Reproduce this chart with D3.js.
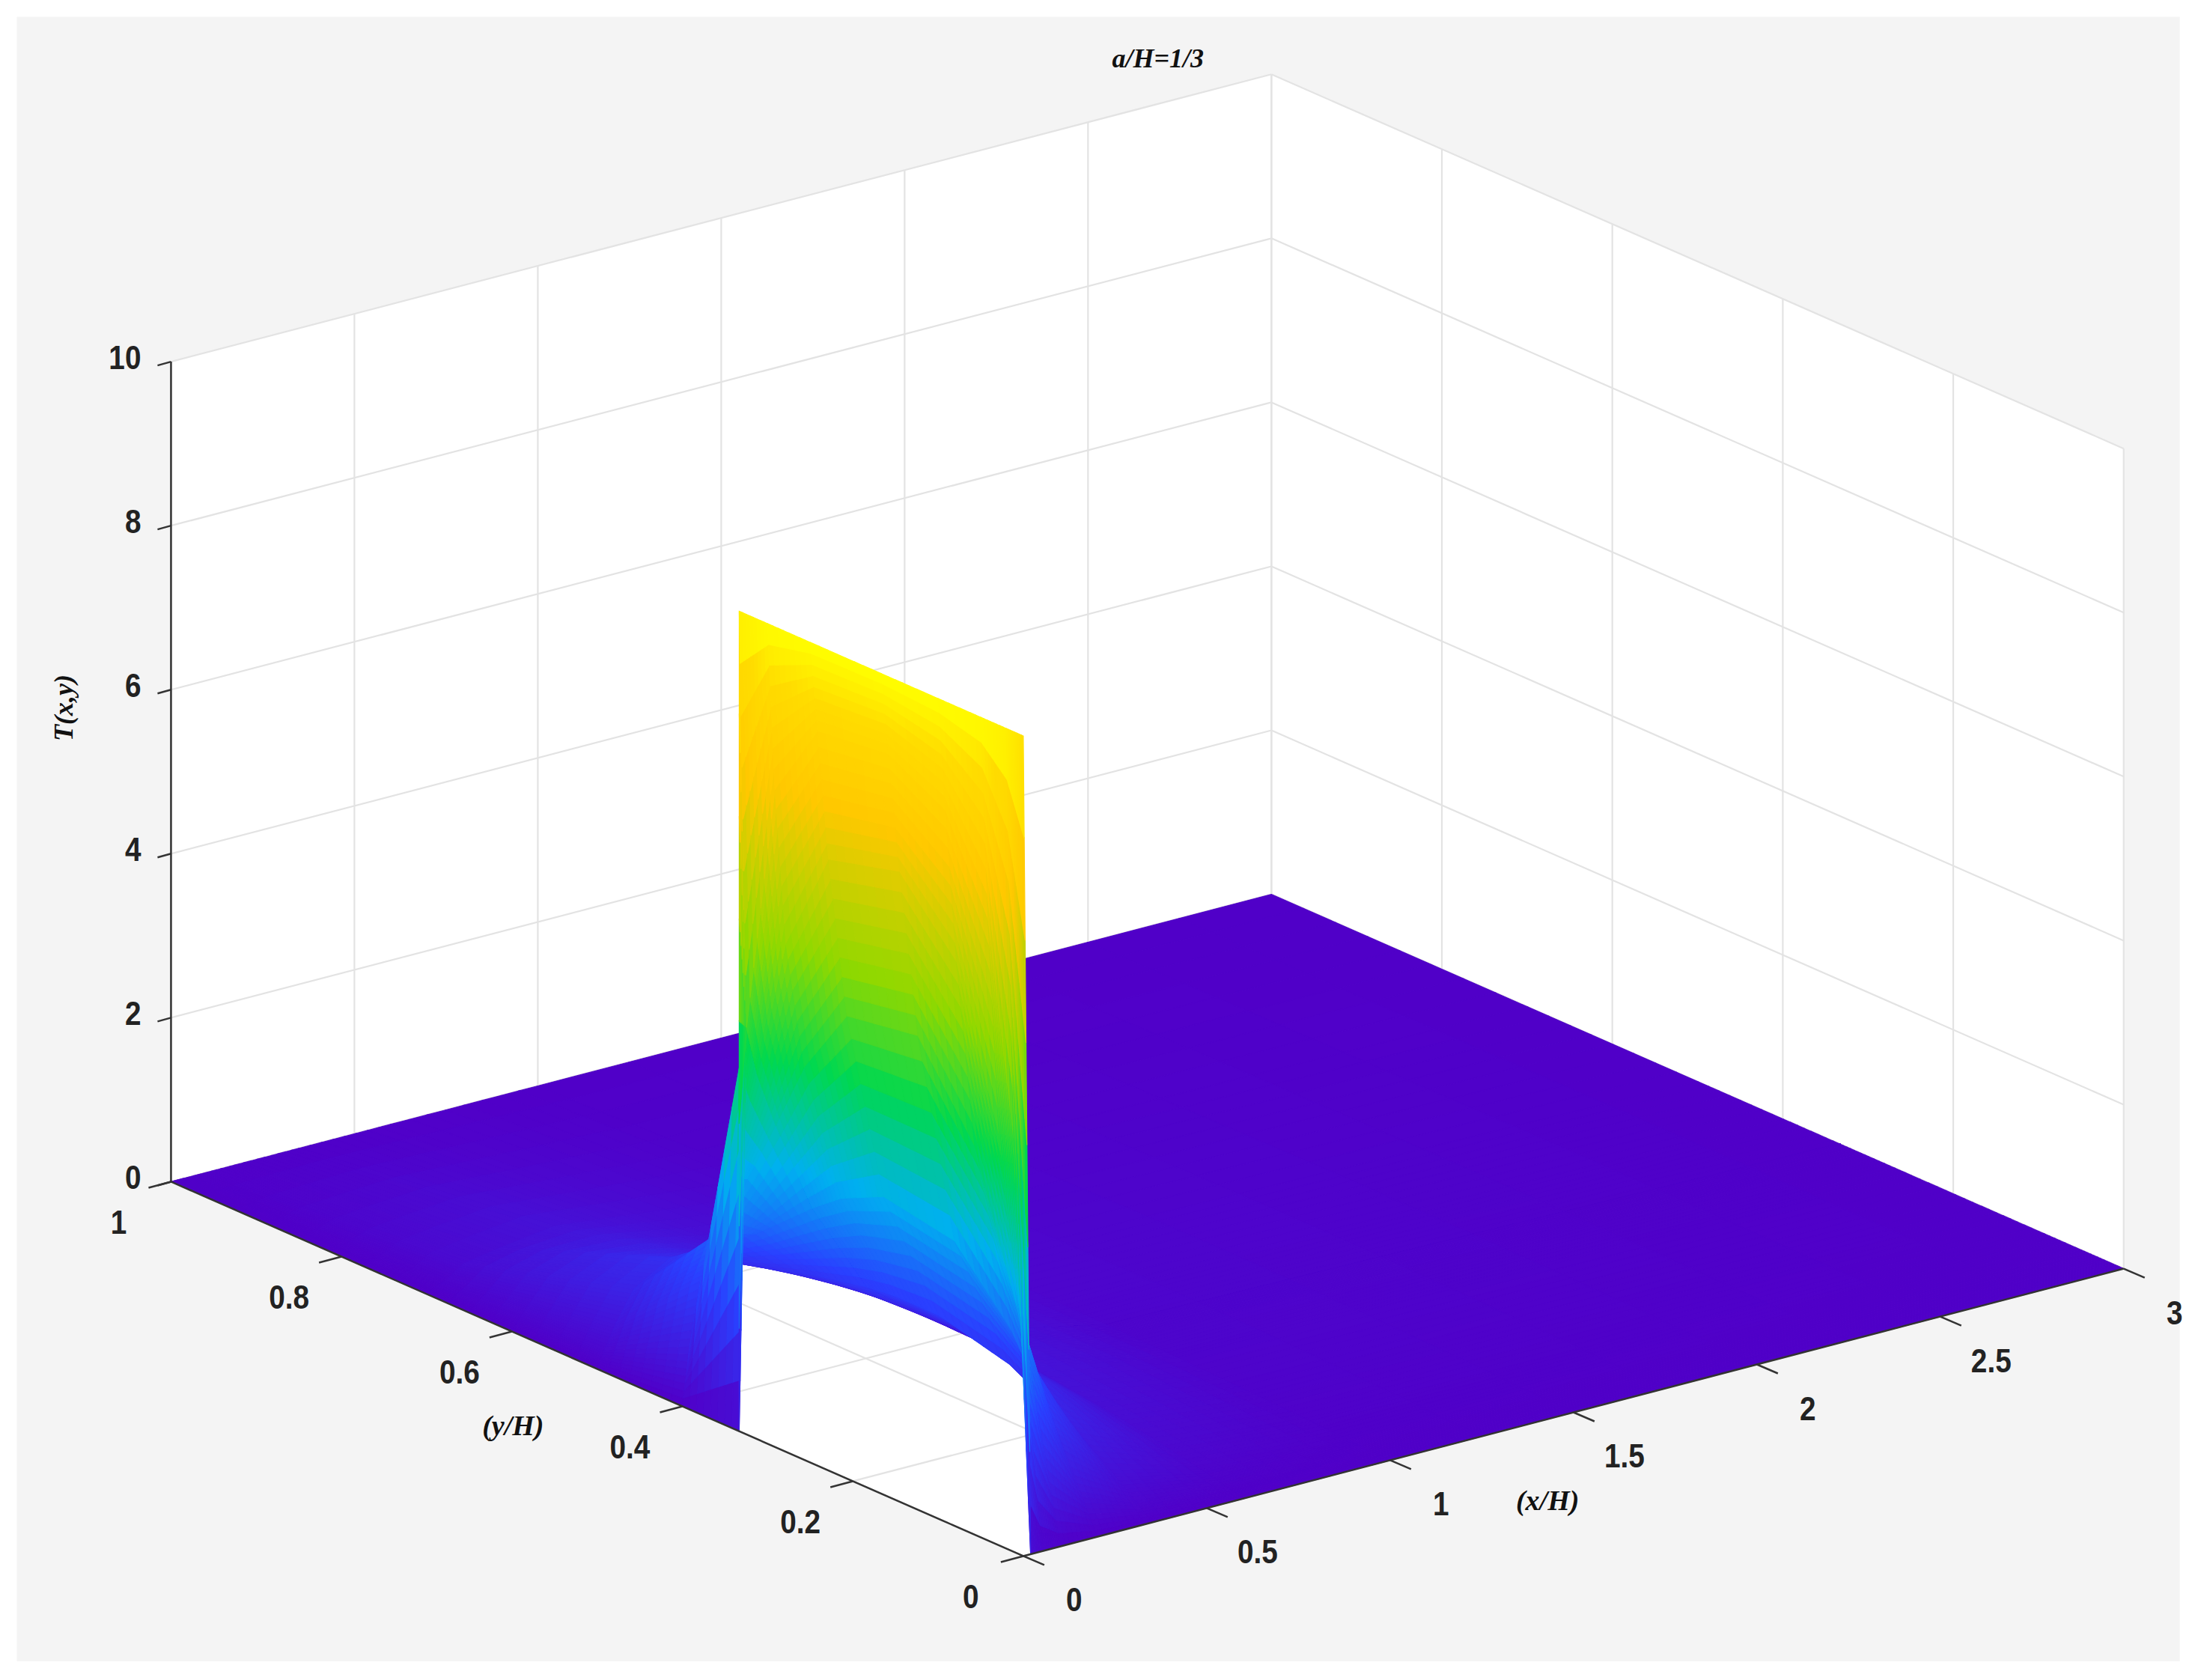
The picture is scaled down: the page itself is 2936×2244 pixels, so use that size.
<!DOCTYPE html>
<html><head><meta charset="utf-8">
<script src="https://d3js.org/d3.v7.min.js"></script>
<style>html,body{margin:0;padding:0;background:#fff}</style>
</head><body>
<script>
// ---- data ----
const title = "a/H=1/3";
const xTicks = [0, 0.5, 1, 1.5, 2, 2.5, 3];
const yTicks = [0, 0.2, 0.4, 0.6, 0.8, 1];
const zTicks = [0, 2, 4, 6, 8, 10];
const xs = [0, 0.02, 0.05, 0.1, 0.2, 0.35, 0.6, 1, 3];
const ys = [0, 0.02, 0.05, 0.1, 0.1667, 0.25, 0.3, 0.3333, 0.3334, 0.4, 0.5, 0.7, 1];
const T0    = [10, 10, 10, 10, 10, 10, 10, 10, 0, 0, 0, 0, 0];
const T002  = [0, 4.98, 7.52, 8.62, 9.0, 8.9, 7.96, 4.9, 4.9, 0.70, 0.20, 0.05, 0];
const T005  = [0, 2.37, 4.86, 6.74, 7.53, 7.30, 6.05, 4.29, 4.29, 1.47, 0.48, 0.10, 0];
const T01   = [0, 1.15, 2.68, 4.43, 5.47, 5.33, 4.48, 3.62, 3.62, 2.0, 0.85, 0.25, 0];
const T02   = [0, 0.46, 1.13, 2.07, 2.85, 3.01, 2.76, 2.49, 2.49, 1.87, 1.12, 0.33, 0];
const T035  = [0, 0.17, 0.42, 0.79, 1.17, 1.39, 1.39, 1.35, 1.35, 1.20, 0.90, 0.42, 0];
const T06   = [0, 0.05, 0.12, 0.23, 0.35, 0.46, 0.50, 0.51, 0.51, 0.52, 0.47, 0.29, 0];
const T1    = [0, 0.01, 0.02, 0.05, 0.08, 0.11, 0.12, 0.13, 0.13, 0.14, 0.14, 0.10, 0];
const T3    = [0, 0, 0, 0, 0, 0, 0, 0, 0, 0, 0, 0, 0];
const Tgrid = [T0, T002, T005, T01, T02, T035, T06, T1, T3];

// ---- layout ----
const W = 2936, H = 2244, S = 2936 / 1568;
const svg = d3.select("body").append("svg").attr("width", W).attr("height", H);
svg.append("rect").attr("width", W).attr("height", H).attr("fill", "#fff");
svg.append("rect").attr("x", 12*S).attr("y", 12*S).attr("width", 1543*S).attr("height", 1173*S).attr("fill", "#f4f4f4");

const O = [730*S, 1110*S];
const xSc = d3.scaleLinear().domain([0, 3]).range([0, 1]);
const ySc = d3.scaleLinear().domain([0, 1]).range([0, 1]);
const zSc = d3.scaleLinear().domain([0, 10]).range([0, -585*S]);
const EX = [785*S, -205*S], EY = [-608*S, -267*S];
function P(x, y, z) {
  const u = xSc(x), v = ySc(y);
  return [O[0] + u*EX[0] + v*EY[0], O[1] + u*EX[1] + v*EY[1] + zSc(z)];
}
const line = d3.line();
const g = svg.append("g");

const poly = (pts, fill) => g.append("path").attr("d", line(pts) + "Z").attr("fill", fill).attr("stroke", fill);
poly([P(0,1,0), P(3,1,0), P(3,1,10), P(0,1,10)], "#fff");
poly([P(3,0,0), P(3,1,0), P(3,1,10), P(3,0,10)], "#fff");
poly([P(0,0,0), P(3,0,0), P(3,1,0), P(0,1,0)], "#fff");
const gc = "#e3e3e3", gw = 2.2;
const seg = (a, b, c, w) => g.append("path").attr("d", line([a, b])).attr("stroke", c).attr("stroke-width", w).attr("fill", "none");
xTicks.forEach(x => { seg(P(x,1,0), P(x,1,10), gc, gw); seg(P(x,0,0), P(x,1,0), gc, gw); });
yTicks.forEach(y => { seg(P(3,y,0), P(3,y,10), gc, gw); seg(P(0,y,0), P(3,y,0), gc, gw); });
zTicks.forEach(z => { seg(P(0,1,z), P(3,1,z), gc, gw); seg(P(3,0,z), P(3,1,z), gc, gw); });

// surface (interpolated shading: each mesh cell is drawn as small shaded patches)
const color = d3.scaleLinear()
  .domain([0, 1.5, 3, 4.5, 6, 8, 9.3, 10])
  .range(["#5000c8", "#2a40ff", "#00b0f0", "#00d850", "#90d800", "#ffc800", "#ffdc00", "#ffff00"]);
const quads = [];
const N = 8;
for (let i = 0; i < xs.length - 1; i++) for (let j = 0; j < ys.length - 1; j++) {
  const t00 = Tgrid[i][j], t10 = Tgrid[i+1][j], t11 = Tgrid[i+1][j+1], t01 = Tgrid[i][j+1];
  const bil = (s, t) => t00*(1-s)*(1-t) + t10*s*(1-t) + t11*s*t + t01*(1-s)*t;
  const X = s => xs[i] + s*(xs[i+1]-xs[i]), Y = t => ys[j] + t*(ys[j+1]-ys[j]);
  for (let a = 0; a < N; a++) for (let b = 0; b < N; b++) {
    const c = [[a/N,b/N],[(a+1)/N,b/N],[(a+1)/N,(b+1)/N],[a/N,(b+1)/N]];
    const pts = c.map(([s,t]) => P(X(s), Y(t), bil(s,t)));
    const mean = d3.mean(c, ([s,t]) => bil(s,t));
    const depth = d3.mean(c, ([s,t]) => P(X(s), Y(t), 0)[1]);
    quads.push({pts, mean, depth});
  }
}
quads.sort((a, b) => a.depth - b.depth);
g.selectAll(".q").data(quads).join("path")
  .attr("d", d => line(d.pts) + "Z")
  .attr("fill", d => color(d.mean)).attr("stroke", d => color(d.mean)).attr("stroke-width", 1.2);

// axes
const ac = "#333", aw = 2.5;
seg(P(0,1,0), P(0,1,10), ac, aw);
seg(P(0,0,0), P(0,1,0), ac, aw);
seg(P(0,0,0), P(3,0,0), ac, aw);
const font = "'Liberation Sans', Arial, sans-serif";
const fs = 44;
const tick = (x, y, t, anchor) => svg.append("text").attr("x", x).attr("y", y).attr("text-anchor", anchor)
  .attr("font-family", font).attr("font-weight", "bold").attr("font-size", fs).attr("fill", "#222")
  .attr("transform", `translate(${x},${y}) scale(0.88,1) translate(${-x},${-y})`).text(t);
zTicks.forEach(z => {
  const p = P(0,1,z);
  seg(p, [p[0] - 18, p[1] + 5], ac, aw);
  tick(p[0] - 40, p[1] + 10, z, "end");
});
yTicks.forEach(y => {
  const p = P(0,y,0);
  seg(p, [p[0] - 30, p[1] + 8], ac, aw);
  tick(p[0] - 70, p[1] + 70, y, "middle");
});
xTicks.forEach(x => {
  const p = P(x,0,0);
  seg(p, [p[0] + 28, p[1] + 12], ac, aw);
  tick(p[0] + 68, p[1] + 74, x, "middle");
});
const serif = "'Liberation Serif', 'Times New Roman', serif";
const lab = (x, y, t, rot, size) => svg.append("text").attr("transform", `translate(${x},${y}) rotate(${rot})`)
  .attr("text-anchor", "middle").attr("font-family", serif).attr("font-style", "italic").attr("font-weight", "bold")
  .attr("font-size", size).attr("fill", "#111").text(t);
lab(826*S, 48*S, title, 0, 36);
lab(366*S, 1024*S, "(y/H)", 0, 38);
lab(1104*S, 1077*S, "(x/H)", 0, 38);
lab(52*S, 505*S, "T(x,y)", -90, 36);
</script>
</body></html>
